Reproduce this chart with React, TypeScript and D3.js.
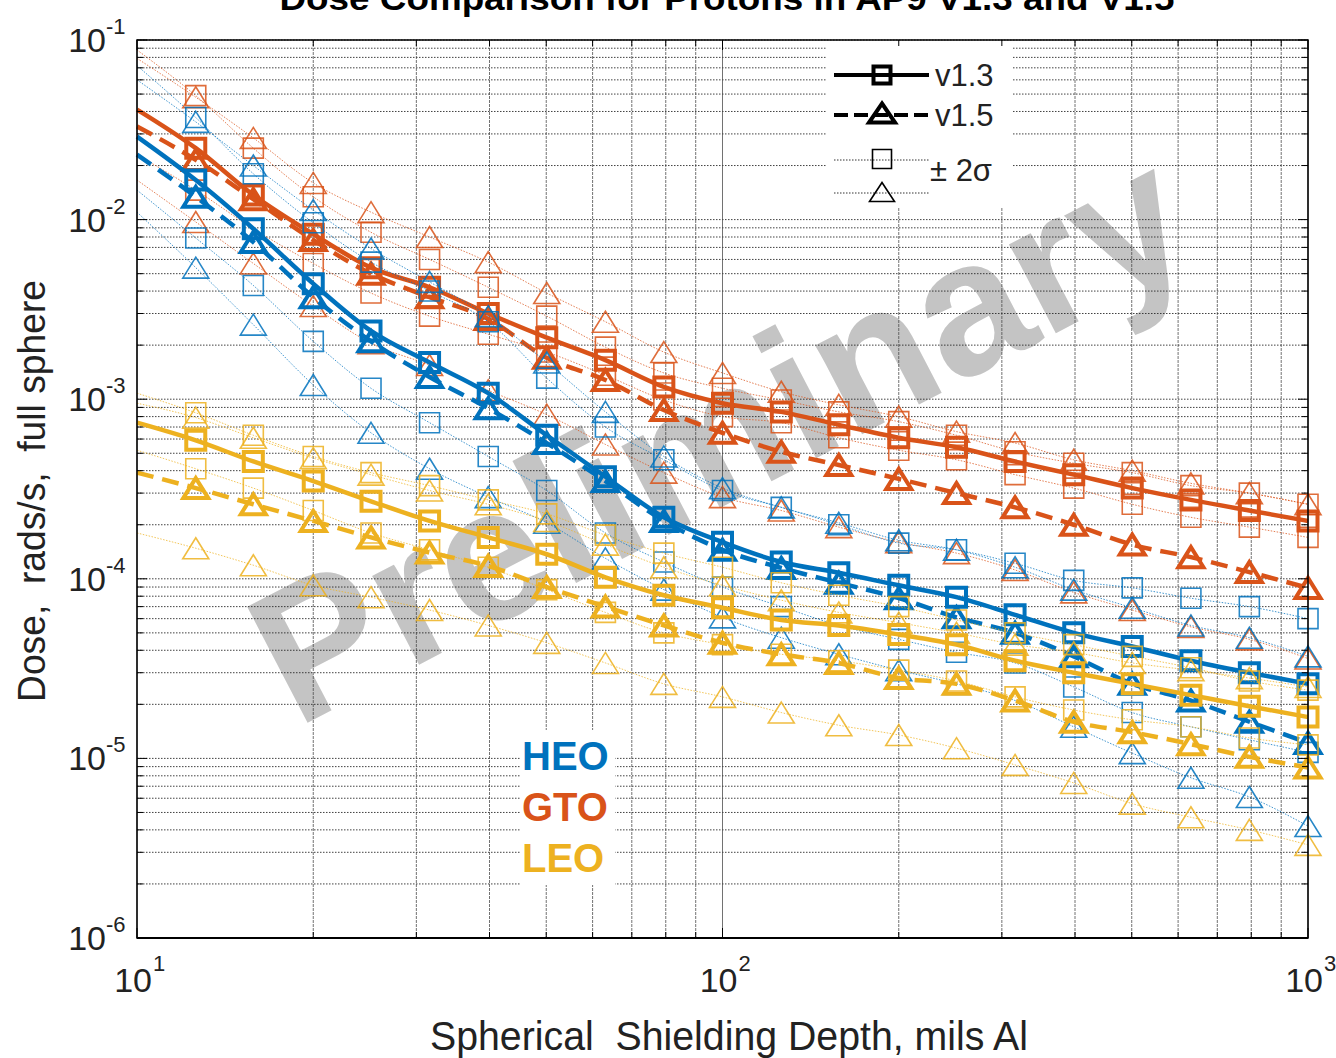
import React from 'react'
import * as d3 from 'd3'

// shielding depth, mils Al (the first point has no marker, the curves start on the axis)
const depths = [10, 12.6, 15.8, 20, 25.1, 31.6, 39.8, 50.1, 63.1, 79.4, 100, 126, 158, 200, 251, 316, 398, 501, 631, 794, 1000]

// GTO dose, rads/s
const gtoV13 = [4.1e-2, 2.5e-2, 1.37e-2, 8.3e-3, 5.4e-3, 4.2e-3, 3.0e-3, 2.2e-3, 1.65e-3, 1.17e-3, 9.5e-4, 8.5e-4, 7.2e-4, 6.1e-4, 5.4e-4, 4.5e-4, 3.8e-4, 3.2e-4, 2.75e-4, 2.4e-4, 2.1e-4]
const gtoV13Hi = [8.8e-2, 4.9e-2, 2.5e-2, 1.34e-2, 8.5e-3, 6.0e-3, 4.2e-3, 2.9e-3, 1.95e-3, 1.4e-3, 1.15e-3, 9.9e-4, 8.5e-4, 7.5e-4, 6.3e-4, 5.1e-4, 4.4e-4, 3.9e-4, 3.3e-4, 3.0e-4, 2.6e-4]
const gtoV13Lo = [2.3e-2, 1.46e-2, 8.9e-3, 5.7e-3, 3.9e-3, 2.9e-3, 2.3e-3, 1.83e-3, 1.36e-3, 9.9e-4, 8.0e-4, 7.4e-4, 6.1e-4, 5.2e-4, 4.6e-4, 3.8e-4, 3.2e-4, 2.6e-4, 2.2e-4, 1.94e-4, 1.7e-4]
const gtoV15 = [3.3e-2, 2.15e-2, 1.3e-2, 7.7e-3, 5.0e-3, 3.7e-3, 2.8e-3, 1.7e-3, 1.28e-3, 8.7e-4, 6.5e-4, 5.1e-4, 4.3e-4, 3.6e-4, 3.0e-4, 2.5e-4, 2.0e-4, 1.55e-4, 1.32e-4, 1.09e-4, 8.9e-5]
const gtoV15Hi = [7.9e-2, 4.8e-2, 2.85e-2, 1.6e-2, 1.1e-2, 8.0e-3, 5.8e-3, 3.9e-3, 2.7e-3, 1.83e-3, 1.4e-3, 1.1e-3, 9.3e-4, 8.0e-4, 6.6e-4, 5.7e-4, 4.6e-4, 4.0e-4, 3.4e-4, 3.0e-4, 2.6e-4]
const gtoV15Lo = [1.66e-2, 9.7e-3, 5.7e-3, 3.3e-3, 2.05e-3, 1.55e-3, 1.12e-3, 8.2e-4, 5.6e-4, 3.9e-4, 2.85e-4, 2.4e-4, 1.94e-4, 1.6e-4, 1.39e-4, 1.12e-4, 8.4e-5, 6.7e-5, 5.4e-5, 4.6e-5, 3.6e-5]

// HEO
const heoV13 = [2.9e-2, 1.66e-2, 8.9e-3, 4.4e-3, 2.4e-3, 1.6e-3, 1.08e-3, 6.3e-4, 3.7e-4, 2.2e-4, 1.6e-4, 1.24e-4, 1.08e-4, 9.2e-5, 7.9e-5, 6.3e-5, 5.0e-5, 4.2e-5, 3.5e-5, 3.0e-5, 2.6e-5]
const heoV13Hi = [7.2e-2, 3.7e-2, 1.8e-2, 9.6e-3, 5.8e-3, 4.0e-3, 2.7e-3, 1.31e-3, 7.0e-4, 4.6e-4, 3.1e-4, 2.5e-4, 2.0e-4, 1.58e-4, 1.45e-4, 1.22e-4, 9.8e-5, 8.9e-5, 7.8e-5, 7.0e-5, 6.0e-5]
const heoV13Lo = [1.46e-2, 7.9e-3, 4.3e-3, 2.1e-3, 1.15e-3, 7.4e-4, 4.8e-4, 3.1e-4, 1.8e-4, 1.24e-4, 9.0e-5, 7.0e-5, 5.5e-5, 4.6e-5, 3.9e-5, 3.4e-5, 2.5e-5, 1.8e-5, 1.5e-5, 1.27e-5, 1.08e-5]
const heoV15 = [2.3e-2, 1.34e-2, 7.5e-3, 3.7e-3, 2.1e-3, 1.33e-3, 8.9e-4, 5.7e-4, 3.5e-4, 2.1e-4, 1.45e-4, 1.15e-4, 9.5e-5, 7.8e-5, 6.1e-5, 5.0e-5, 3.7e-5, 2.6e-5, 2.1e-5, 1.6e-5, 1.22e-5]
const heoV15Hi = [6.0e-2, 3.5e-2, 2.0e-2, 1.13e-2, 6.9e-3, 4.5e-3, 2.9e-3, 1.6e-3, 8.5e-4, 4.8e-4, 3.2e-4, 2.5e-4, 2.05e-4, 1.64e-4, 1.45e-4, 1.16e-4, 8.7e-5, 6.9e-5, 5.5e-5, 4.7e-5, 3.7e-5]
const heoV15Lo = [1.1e-2, 5.4e-3, 2.6e-3, 1.2e-3, 6.5e-4, 4.1e-4, 2.85e-4, 2.05e-4, 1.3e-4, 8.7e-5, 6.1e-5, 4.7e-5, 3.8e-5, 3.1e-5, 2.6e-5, 2.1e-5, 1.5e-5, 1.07e-5, 7.8e-6, 6.1e-6, 4.2e-6]

// LEO
const leoV13 = [7.4e-4, 5.9e-4, 4.5e-4, 3.5e-4, 2.7e-4, 2.1e-4, 1.7e-4, 1.37e-4, 1.02e-4, 8.1e-5, 6.9e-5, 5.9e-5, 5.5e-5, 4.9e-5, 4.3e-5, 3.5e-5, 3.0e-5, 2.6e-5, 2.25e-5, 1.95e-5, 1.7e-5]
const leoV13Hi = [1.08e-3, 8.4e-4, 6.3e-4, 4.8e-4, 3.9e-4, 3.3e-4, 2.75e-4, 2.3e-4, 1.75e-4, 1.39e-4, 1.16e-4, 9.5e-5, 8.1e-5, 7.0e-5, 5.9e-5, 5.0e-5, 4.3e-5, 3.7e-5, 3.2e-5, 2.7e-5, 2.4e-5]
const leoV13Lo = [5.2e-4, 4.1e-4, 3.2e-4, 2.4e-4, 1.8e-4, 1.45e-4, 1.16e-4, 8.7e-5, 6.5e-5, 5.0e-5, 4.3e-5, 3.8e-5, 3.5e-5, 3.1e-5, 2.7e-5, 2.2e-5, 1.86e-5, 1.64e-5, 1.5e-5, 1.3e-5, 1.19e-5]
const leoV15 = [3.9e-4, 3.2e-4, 2.6e-4, 2.1e-4, 1.7e-4, 1.4e-4, 1.18e-4, 9.0e-5, 7.0e-5, 5.5e-5, 4.4e-5, 3.8e-5, 3.4e-5, 2.8e-5, 2.6e-5, 2.1e-5, 1.6e-5, 1.4e-5, 1.2e-5, 1.02e-5, 8.9e-6]
const leoV15Hi = [9.5e-4, 7.9e-4, 6.1e-4, 4.7e-4, 3.8e-4, 3.1e-4, 2.6e-4, 2.1e-4, 1.55e-4, 1.16e-4, 9.2e-5, 7.6e-5, 6.5e-5, 5.7e-5, 5.0e-5, 4.3e-5, 3.9e-5, 3.4e-5, 3.1e-5, 2.8e-5, 2.5e-5]
const leoV15Lo = [1.8e-4, 1.48e-4, 1.19e-4, 9.2e-5, 7.9e-5, 6.7e-5, 5.5e-5, 4.4e-5, 3.4e-5, 2.6e-5, 2.2e-5, 1.8e-5, 1.53e-5, 1.35e-5, 1.14e-5, 9.2e-6, 7.3e-6, 5.6e-6, 4.7e-6, 4.0e-6, 3.3e-6]

const xTickExps = [1, 2, 3]
const yTickExps = [-1, -2, -3, -4, -5, -6]
const orbitLabels = ['HEO', 'GTO', 'LEO']
const colors: Record<string, string> = { HEO: '#0072BD', GTO: '#D95319', LEO: '#EDB120' }

// drawing order: GTO under HEO under LEO
const orbits = [
  { name: 'GTO', v13: gtoV13, v13Hi: gtoV13Hi, v13Lo: gtoV13Lo, v15: gtoV15, v15Hi: gtoV15Hi, v15Lo: gtoV15Lo },
  { name: 'HEO', v13: heoV13, v13Hi: heoV13Hi, v13Lo: heoV13Lo, v15: heoV15, v15Hi: heoV15Hi, v15Lo: heoV15Lo },
  { name: 'LEO', v13: leoV13, v13Hi: leoV13Hi, v13Lo: leoV13Lo, v15: leoV15, v15Hi: leoV15Hi, v15Lo: leoV15Lo },
]

const W = 1336
const H = 1058
const L = 137
const R = 1308
const T = 40
const B = 938
const FONT = 'Liberation Sans, Arial, sans-serif'

const square = (s: number) => `M${-s / 2},${-s / 2}h${s}v${s}h${-s}Z`
const triangle = (w: number, h: number) => `M0,${-h / 2}L${w / 2},${h / 2}L${-w / 2},${h / 2}Z`

export default function App() {
  const x = d3.scaleLog().domain([10, 1000]).range([L, R])
  const y = d3.scaleLog().domain([1e-6, 1e-1]).range([B, T])

  const line = d3
    .line<number>()
    .x((_, i) => x(depths[i]))
    .y(d => y(d))
    .curve(d3.curveMonotoneX)

  const xGrid = x.ticks()
  const yGrid = y.ticks()
  const isMajor = (v: number) => Math.abs(Math.log10(v) - Math.round(Math.log10(v))) < 1e-6

  const thin = (vals: number[], color: string, shape: string, key: string) => (
    <g key={key}>
      <path d={line(vals) || ''} fill="none" stroke={color} strokeWidth={1} strokeDasharray="1.5,1.5" opacity={0.75} />
      {vals.map((v, i) =>
        i === 0 ? null : (
          <path key={i} d={shape} transform={`translate(${x(depths[i])},${y(v)})`} fill="none" stroke={color} strokeWidth={1.6} opacity={0.85} />
        )
      )}
    </g>
  )

  const thick = (vals: number[], color: string, shape: string, dashed: boolean, key: string) => (
    <g key={key}>
      <path d={line(vals) || ''} fill="none" stroke={color} strokeWidth={4.5} strokeDasharray={dashed ? '17,9' : undefined} />
      {vals.map((v, i) =>
        i === 0 ? null : (
          <path key={i} d={shape} transform={`translate(${x(depths[i])},${y(v)})`} fill="none" stroke={color} strokeWidth={4} strokeLinejoin="miter" />
        )
      )}
    </g>
  )

  const sqThin = square(20)
  const triThin = triangle(26, 21)
  const sqThick = square(19)
  const triThick = triangle(25, 20)

  return (
    <svg width={W} height={H} style={{ position: 'absolute', left: 0, top: 0, background: '#fff' }} fontFamily={FONT}>
      <rect x={0} y={0} width={W} height={H} fill="#fff" />

      {/* title, cut by the top edge of the picture as in the source */}
      <text x={727} y={10} textAnchor="middle" fontSize={33} fontWeight="bold" textLength={895} lengthAdjust="spacingAndGlyphs">
        Dose Comparison for Protons in AP9 V1.3 and V1.5
      </text>

      {/* watermark, under the grid */}
      <text
        transform="translate(749,493) rotate(-27.5)"
        textAnchor="middle"
        fontSize={190}
        fontWeight="bold"
        fill="#c4c4c4"
        textLength={1020}
        lengthAdjust="spacingAndGlyphs"
      >
        Preliminary
      </text>

      {/* grid */}
      <g>
        {yGrid.map(v => (
          <line key={'h' + v} x1={L} x2={R} y1={y(v)} y2={y(v)} stroke="#222" strokeWidth={1} strokeDasharray="1.5,1.5" opacity={0.85} />
        ))}
        {xGrid.map(v => (
          <line key={'v' + v} x1={x(v)} x2={x(v)} y1={T} y2={B} stroke="#444" strokeWidth={1} strokeDasharray={isMajor(v) ? undefined : '3,1'} opacity={0.75} />
        ))}
      </g>

      {/* boxes behind the legend and the orbit labels */}
      <rect x={826} y={41} width={187} height={166} fill="#fff" />
      <rect x={520} y={730} width={95} height={155} fill="#fff" />

      {/* data */}
      {orbits.map(o => (
        <g key={o.name}>
          {thin(o.v13Hi, colors[o.name], sqThin, 'a')}
          {thin(o.v13Lo, colors[o.name], sqThin, 'b')}
          {thin(o.v15Hi, colors[o.name], triThin, 'c')}
          {thin(o.v15Lo, colors[o.name], triThin, 'd')}
          {thick(o.v13, colors[o.name], sqThick, false, 'e')}
          {thick(o.v15, colors[o.name], triThick, true, 'f')}
        </g>
      ))}

      {/* frame and ticks */}
      <rect x={L} y={T} width={R - L} height={B - T} fill="none" stroke="#000" strokeWidth={1.5} />
      <line x1={L} x2={R} y1={B} y2={B} stroke="#000" strokeWidth={2} />
      {xGrid.map(v => {
        const len = isMajor(v) ? 10 : 6
        return (
          <g key={'xt' + v}>
            <line x1={x(v)} x2={x(v)} y1={B} y2={B - len} stroke="#000" />
            <line x1={x(v)} x2={x(v)} y1={T} y2={T + len} stroke="#000" />
          </g>
        )
      })}
      {yGrid.map(v => {
        const len = isMajor(v) ? 10 : 6
        return (
          <g key={'yt' + v}>
            <line x1={L} x2={L + len} y1={y(v)} y2={y(v)} stroke="#000" />
            <line x1={R} x2={R - len} y1={y(v)} y2={y(v)} stroke="#000" />
          </g>
        )
      })}

      {/* tick labels */}
      {xTickExps.map(e => (
        <g key={'xl' + e}>
          <text x={x(Math.pow(10, e)) + 15} y={992} textAnchor="end" fontSize={34} fill="#222">10</text>
          <text x={x(Math.pow(10, e)) + 16} y={971} fontSize={22} fill="#222">{e}</text>
        </g>
      ))}
      {yTickExps.map(e => (
        <g key={'yl' + e}>
          <text x={106} y={y(Math.pow(10, e)) + 12} textAnchor="end" fontSize={34} fill="#222">10</text>
          <text x={106} y={y(Math.pow(10, e)) - 6} fontSize={22} fill="#222">{e}</text>
        </g>
      ))}

      {/* axis titles */}
      <text x={729} y={1050} textAnchor="middle" fontSize={40} fill="#222" textLength={598} lengthAdjust="spacingAndGlyphs" style={{ whiteSpace: 'pre' }}>
        {'Spherical  Shielding Depth, mils Al'}
      </text>
      <text transform="translate(45,491) rotate(-90)" textAnchor="middle" fontSize={38} fill="#222" textLength={422} lengthAdjust="spacingAndGlyphs" style={{ whiteSpace: 'pre' }}>
        {'Dose,  rads/s,  full sphere'}
      </text>

      {/* legend */}
      <g>
        <line x1={834} x2={929} y1={75} y2={75} stroke="#000" strokeWidth={4} />
        <path d={square(17)} transform="translate(882,75)" fill="none" stroke="#000" strokeWidth={4} />
        <text x={935} y={86} fontSize={31} fill="#222">v1.3</text>
        <line x1={834} x2={929} y1={115} y2={115} stroke="#000" strokeWidth={4} strokeDasharray="14,6" />
        <path d={triangle(26, 19)} transform="translate(882,113)" fill="none" stroke="#000" strokeWidth={4} />
        <text x={935} y={126} fontSize={31} fill="#222">v1.5</text>
        <line x1={834} x2={930} y1={160} y2={160} stroke="#333" strokeWidth={1} strokeDasharray="1.5,1.5" />
        <path d={square(19)} transform="translate(882,159)" fill="none" stroke="#000" strokeWidth={1.6} />
        <line x1={834} x2={930} y1={193} y2={193} stroke="#333" strokeWidth={1} strokeDasharray="1.5,1.5" />
        <path d={triangle(25, 19)} transform="translate(882,192)" fill="none" stroke="#000" strokeWidth={1.6} />
        <text x={930} y={181} fontSize={31} fill="#222">± 2σ</text>
      </g>

      {/* orbit labels */}
      {orbitLabels.map((n, i) => (
        <text key={n} x={522} y={770 + i * 51} fontSize={40} fontWeight="bold" fill={colors[n]}>
          {n}
        </text>
      ))}
    </svg>
  )
}
